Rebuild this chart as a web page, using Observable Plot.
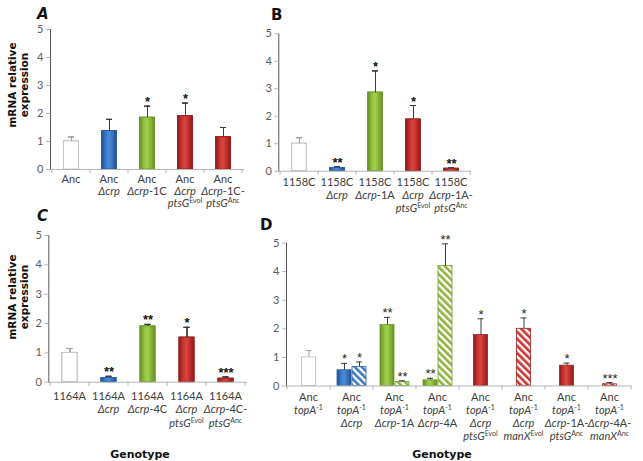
<!DOCTYPE html>
<html>
<head>
<meta charset="utf-8">
<script src="https://cdn.jsdelivr.net/npm/d3@7"></script>
<script src="https://cdn.jsdelivr.net/npm/@observablehq/plot@0.6"></script>
<style>
  body { margin: 0; background: #fff; }
  #fig { position: relative; width: 643px; height: 461px; overflow: hidden; background: #fff; }
  .panel { position: absolute; }
  .panel svg { overflow: visible; }
  .panel g[aria-label="y-axis tick"], .panel g[aria-label="frame"], .panel g[aria-label="y-axis line"] { stroke: #b4b4b4; }
  #overlay { position: absolute; left: 0; top: 0; pointer-events: none; }
</style>
</head>
<body>
<div id="fig"></div>
<script>
// ---- Panel A: Anc background ----
const genotypesA = [
  "Anc",
  "Anc\n<i>Δcrp</i>",
  "Anc\n<i>Δcrp</i>-1C",
  "Anc\n<i>Δcrp</i>\n<i>ptsG</i><sup>Evol</sup>",
  "Anc\n<i>Δcrp</i>-1C-\n<i>ptsG</i><sup>Anc</sup>"
];
const kindsA = ["ancestor", "deletion", "evolved", "construct", "construct"];
const valuesA = [1.0, 1.37, 1.85, 1.90, 1.15];
const errorsA = [0.16, 0.42, 0.41, 0.47, 0.35];
const starsA = ["", "", "*", "*", ""];

// ---- Panel B: 1158C background ----
const genotypesB = [
  "1158C",
  "1158C\n<i>Δcrp</i>",
  "1158C\n<i>Δcrp</i>-1A",
  "1158C\n<i>Δcrp</i>\n<i>ptsG</i><sup>Evol</sup>",
  "1158C\n<i>Δcrp</i>-1A-\n<i>ptsG</i><sup>Anc</sup>"
];
const kindsB = ["ancestor", "deletion", "evolved", "construct", "construct"];
const valuesB = [1.0, 0.12, 2.86, 1.88, 0.09];
const errorsB = [0.22, 0.05, 0.79, 0.51, 0.03];
const starsB = ["", "**", "*", "*", "**"];

// ---- Panel C: 1164A background ----
const genotypesC = [
  "1164A",
  "1164A\n<i>Δcrp</i>",
  "1164A\n<i>Δcrp</i>-4C",
  "1164A\n<i>Δcrp</i>\n<i>ptsG</i><sup>Evol</sup>",
  "1164A\n<i>Δcrp</i>-4C-\n<i>ptsG</i><sup>Anc</sup>"
];
const kindsC = ["ancestor", "deletion", "evolved", "construct", "construct"];
const valuesC = [1.0, 0.14, 1.90, 1.52, 0.12];
const errorsC = [0.15, 0.06, 0.07, 0.35, 0.06];
const starsC = ["", "**", "**", "*", "***"];

// ---- Panel D: Anc topA-1 background, ptsG (solid) and manX (hatched) ----
const genotypesD = [
  "Anc\n<i>topA</i><sup>-1</sup>",
  "Anc\n<i>topA</i><sup>-1</sup>\n<i>Δcrp</i>",
  "Anc\n<i>topA</i><sup>-1</sup>\n<i>Δcrp</i>-1A",
  "Anc\n<i>topA</i><sup>-1</sup>\n<i>Δcrp</i>-4A",
  "Anc\n<i>topA</i><sup>-1</sup>\n<i>Δcrp</i>\n<i>ptsG</i><sup>Evol</sup>",
  "Anc\n<i>topA</i><sup>-1</sup>\n<i>Δcrp</i>\n<i>manX</i><sup>Evol</sup>",
  "Anc\n<i>topA</i><sup>-1</sup>\n<i>Δcrp</i>-1A-\n<i>ptsG</i><sup>Anc</sup>",
  "Anc\n<i>topA</i><sup>-1</sup>\n<i>Δcrp</i>-4A-\n<i>manX</i><sup>Anc</sup>"
];
const barGroupD = [0, 1, 1, 2, 2, 3, 3, 4, 5, 6, 7];
const barGeneD  = ["ptsG", "ptsG", "manX", "ptsG", "manX", "ptsG", "manX", "ptsG", "manX", "ptsG", "manX"];
const barKindD  = ["ancestor", "deletion", "deletion", "evolved", "evolved", "evolved", "evolved", "construct", "construct", "construct", "construct"];
const valuesD = [1.0, 0.55, 0.67, 2.13, 0.14, 0.20, 4.20, 1.78, 2.00, 0.71, 0.06];
const errorsD = [0.24, 0.24, 0.17, 0.27, 0.04, 0.07, 0.77, 0.57, 0.38, 0.09, 0.06];
const starsD  = ["", "*", "*", "**", "**", "**", "**", "*", "*", "*", "***"];

const yTicks = [0, 1, 2, 3, 4, 5];

// fills: kind -> base colour name; manX bars are drawn hatched
const kindColour = {ancestor: "white", deletion: "blue", evolved: "green", construct: "red"};
function fillFor(d) {
  const c = kindColour[d.kind];
  if (c === "white") return "#ffffff";
  return d.gene === "manX" ? `url(#hatch-${c})` : `url(#grad-${c})`;
}
function strokeFor(d) {
  const c = kindColour[d.kind];
  return {white: "#bdbdbd", blue: "#2d5f9e", green: "#6f9a2c", red: "#9c2222"}[c];
}

const fig = document.getElementById("fig");

// shared defs + annotation layer
const overlay = d3.select(fig).append("svg")
  .attr("id", "overlay").attr("width", 643).attr("height", 461);
const defs = overlay.append("defs");
const gradStops = {
  blue:  ["#23508c", "#3d7cca", "#4c8cd8", "#3a74bd", "#23508c"],
  green: ["#668d25", "#92c13f", "#a3d04f", "#89b838", "#668d25"],
  red:   ["#8c1b1b", "#c93733", "#d9463f", "#c0302d", "#8c1b1b"]
};
for (const [name, stops] of Object.entries(gradStops)) {
  const g = defs.append("linearGradient").attr("id", `grad-${name}`)
    .attr("x1", 0).attr("x2", 1).attr("y1", 0).attr("y2", 0);
  [0, 0.3, 0.5, 0.72, 1].forEach((o, i) =>
    g.append("stop").attr("offset", o).attr("stop-color", stops[i]));
}
const hatchColour = {blue: "#3b78c4", green: "#8ab53c", red: "#cc3430"};
for (const [name, col] of Object.entries(hatchColour)) {
  const p = defs.append("pattern").attr("id", `hatch-${name}`)
    .attr("patternUnits", "userSpaceOnUse").attr("width", 5).attr("height", 5)
    .attr("patternTransform", "rotate(-45)");
  p.append("rect").attr("width", 5).attr("height", 5).attr("fill", "#fff");
  p.append("rect").attr("width", 2.6).attr("height", 5).attr("fill", col);
}

function rows(genotypes, kinds, values, errors, stars, groups, genes) {
  return values.map((v, i) => ({
    genotype: genotypes[groups ? groups[i] : i],
    kind: kinds[i],
    gene: genes ? genes[i] : "ptsG",
    value: v,
    top: v + errors[i],
    stars: stars[i]
  }));
}

// label markup: lines split on \n, <i>..</i> italic, <sup>..</sup> superscript
function writeLabel(text, lines, lineHeight) {
  lines.split("\n").forEach((line, li) => {
    const t = text.append("tspan").attr("x", 0).attr("y", li * lineHeight);
    const re = /<(i|sup)>(.*?)<\/\1>|([^<]+)/g;
    let m, raised = false;
    while ((m = re.exec(line))) {
      let s;
      if (m[3]) s = t.append("tspan").text(m[3]);
      else if (m[1] === "i") s = t.append("tspan").attr("font-style", "italic").text(m[2]);
      else s = t.append("tspan").attr("font-size", "7px");
      if (m[1] === "sup") {
        s.attr("dy", -4).text(m[2]);
        raised = true;
      } else if (raised) {
        s.attr("dy", 4);
        raised = false;
      }
    }
  });
}

function panel({left, top, width, height, margins, genotypes, data, inset, pairOffset, labelY, lineHeight}) {
  const [mt, mr, mb, ml] = margins;
  const pairs = d3.rollup(data, v => v.length, d => d.genotype);
  const offset = d => pairs.get(d.genotype) > 1 ? (d.gene === "manX" ? pairOffset : -pairOffset) : 0;
  const errStroke = d => d.kind === "ancestor" ? "#a0a0a0" : "#3c3c3c";
  const marks = [];
  for (const dx of [0, -pairOffset, pairOffset]) {
    const sub = data.filter(d => offset(d) === dx);
    if (!sub.length || (dx !== 0 && pairOffset === 0 && marks.length)) continue;
    marks.push(
      Plot.barY(sub, {x: "genotype", y: "value", fill: fillFor, stroke: strokeFor, strokeWidth: 0.8,
        insetLeft: inset, insetRight: inset, dx}),
      Plot.ruleX(sub, {x: "genotype", y1: "value", y2: "top", dx, stroke: errStroke, strokeWidth: 1}),
      Plot.tickY(sub, {x: "genotype", y: "top", dx, stroke: errStroke, strokeWidth: 1}),
      Plot.text(sub, {x: "genotype", y: "top", text: "stars", dx, dy: 0, lineAnchor: "bottom",
        fontSize: 13, fill: "#262626", fontFamily: "Liberation Sans"})
    );
  }
  marks.push(Plot.ruleY([0], {stroke: "#b4b4b4"}));

  const chart = Plot.plot({
    width, height,
    marginTop: mt, marginRight: mr, marginBottom: mb, marginLeft: ml,
    style: {fontFamily: "Lato", fontSize: "11px", color: "#5a5a5a", background: "transparent", overflow: "visible"},
    x: {domain: genotypes, padding: 0, axis: null},
    y: {domain: [0, 5], ticks: yTicks, tickFormat: d => String(d), tickSize: 4, tickPadding: 3, line: true, label: null},
    marks
  });

  // narrow the error-bar caps to a short T
  const capHalf = 3;
  d3.select(chart).selectAll('g[aria-label="tick"] line').each(function () {
    const l = d3.select(this);
    const c = (+l.attr("x1") + +l.attr("x2")) / 2;
    l.attr("x1", c - capHalf).attr("x2", c + capHalf);
  });

  // category ticks at band edges and multi-line genotype labels
  const xs = chart.scale("x");
  const y0 = chart.scale("y").apply(0);
  const g = d3.select(chart).append("g").attr("aria-label", "x-axis");
  const last = xs.domain[xs.domain.length - 1];
  const edges = xs.domain.map(d => xs.apply(d)).concat([xs.apply(last) + xs.bandwidth]);
  g.selectAll("line").data(edges).join("line")
    .attr("x1", d => d).attr("x2", d => d).attr("y1", y0).attr("y2", y0 + 4)
    .attr("stroke", "#b4b4b4");
  xs.domain.forEach(d => {
    const t = g.append("text")
      .attr("transform", `translate(${xs.apply(d) + xs.bandwidth / 2},${y0 + labelY})`)
      .attr("text-anchor", "middle").attr("fill", "#404040")
      .attr("font-family", "Lato").attr("font-size", "11px");
    writeLabel(t, d, lineHeight);
  });

  const wrap = document.createElement("div");
  wrap.className = "panel";
  wrap.style.left = left + "px";
  wrap.style.top = top + "px";
  wrap.appendChild(chart);
  fig.insertBefore(wrap, overlay.node());
}

panel({left: 0, top: 0, width: 260, height: 230, margins: [29, 16, 61, 50],
  genotypes: genotypesA, data: rows(genotypesA, kindsA, valuesA, errorsA, starsA),
  inset: 11.5, pairOffset: 0, labelY: 14, lineHeight: 12});
panel({left: 260, top: 0, width: 230, height: 230, margins: [33.3, 19, 59.3, 18.3],
  genotypes: genotypesB, data: rows(genotypesB, kindsB, valuesB, errorsB, starsB),
  inset: 11.8, pairOffset: 0, labelY: 15, lineHeight: 13});
panel({left: 0, top: 225, width: 260, height: 236, margins: [10, 13, 79.3, 48.3],
  genotypes: genotypesC, data: rows(genotypesC, kindsC, valuesC, errorsC, starsC),
  inset: 12, pairOffset: 0, labelY: 18, lineHeight: 13.5});
panel({left: 260, top: 225, width: 383, height: 236, margins: [17.5, 11.3, 75.5, 26],
  genotypes: genotypesD, data: rows(genotypesD, barKindD, valuesD, errorsD, starsD, barGroupD, barGeneD),
  inset: 14.5, pairOffset: 7.5, labelY: 15, lineHeight: 13});

// panel letters, y titles, x titles
const ann = overlay.append("g").attr("font-family", "DejaVu Sans").attr("fill", "#111");
[["A", 37, 19, "italic"], ["B", 271, 20, "normal"], ["C", 37, 221, "italic"], ["D", 260, 230, "normal"]]
  .forEach(([s, x, y, st]) => ann.append("text").attr("x", x).attr("y", y)
    .attr("font-size", 15).attr("font-weight", "bold").attr("font-style", st).text(s));
[85, 297].forEach(cy => {
  const t = ann.append("text").attr("transform", `translate(0,${cy}) rotate(-90)`)
    .attr("text-anchor", "middle").attr("font-size", 10.5).attr("font-weight", "bold");
  t.append("tspan").attr("x", 0).attr("y", 16).text("mRNA relative");
  t.append("tspan").attr("x", 0).attr("y", 28).text("expression");
});
[[140, 458], [442, 458]].forEach(([x, y]) =>
  ann.append("text").attr("x", x).attr("y", y).attr("text-anchor", "middle")
    .attr("font-size", 11).attr("font-weight", "bold").text("Genotype"));
</script>
</body>
</html>
